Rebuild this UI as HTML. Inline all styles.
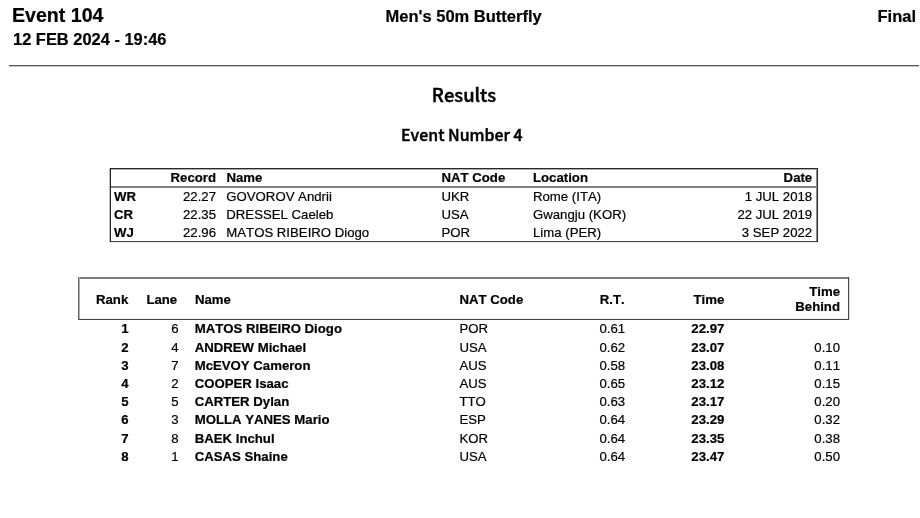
<!DOCTYPE html>
<html><head><meta charset="utf-8"><title>Results</title>
<style>
html,body{margin:0;padding:0;background:#fff;}
body{width:920px;height:518px;position:relative;overflow:hidden;font-family:"Liberation Sans",sans-serif;color:#000;font-kerning:none;font-size:13.2px;}
.t{position:absolute;white-space:nowrap;line-height:1;-webkit-text-stroke:0.2px #000;}
.b{font-weight:bold;font-size:13.2px;}
.seg{font-family:"Noto Sans CJK JP","Noto Sans CJK SC","Liberation Sans",sans-serif;font-weight:500;-webkit-text-stroke:0.45px #000;}
</style></head><body>
<div class="t b" style="top:6px;left:12px;font-size:19.6px;">Event 104</div>
<div class="t b" style="top:31px;left:13px;font-size:16.45px;">12 FEB 2024 - 19:46</div>
<div class="t b" style="top:8px;left:163.6px;width:600px;text-align:center;font-size:16.5px;">Men's 50m Butterfly</div>
<div class="t b" style="top:8px;right:4px;font-size:16.5px;">Final</div>
<div class="t seg" style="top:85px;left:164px;width:600px;text-align:center;font-size:18.4px;">Results</div>
<div class="t seg" style="top:127px;left:161.9px;width:600px;text-align:center;font-size:15.9px;">Event Number 4</div>
<svg width="920" height="518" viewBox="0 0 920 518" shape-rendering="crispEdges" style="position:absolute;left:0;top:0;">
<rect x="9" y="66" width="910" height="1" fill="#c4c4c4"/>
<rect x="9" y="65" width="910" height="1" fill="#5a5a5a"/>
<rect x="110" y="186" width="708" height="2" fill="#808080"/>
<rect x="109" y="168" width="1" height="74" fill="#c0c0c0"/>
<rect x="816" y="168" width="1" height="74" fill="#909090"/>
<rect x="110" y="169" width="708" height="1" fill="#aaaaaa"/>
<rect x="110" y="242" width="708" height="1" fill="#e4e4e4"/>
<rect x="110" y="168" width="708" height="1" fill="#2a2a2a"/>
<rect x="110" y="241" width="708" height="1" fill="#484848"/>
<rect x="110" y="168" width="1" height="74" fill="#222222"/>
<rect x="817" y="168" width="1" height="74" fill="#2a2a2a"/>
<rect x="78" y="277" width="772" height="2" fill="#7c7c7c"/>
<rect x="78" y="318" width="772" height="1" fill="#eeeeee"/>
<rect x="79" y="277" width="1" height="43" fill="#b0b0b0"/>
<rect x="849" y="277" width="1" height="43" fill="#dddddd"/>
<rect x="78" y="319" width="771" height="1" fill="#444444"/>
<rect x="78" y="277" width="1" height="43" fill="#666666"/>
<rect x="848" y="277" width="1" height="43" fill="#4a4a4a"/>
</svg>
<div class="t b" style="top:171px;right:704px;">Record</div>
<div class="t b" style="top:171px;left:226.5px;">Name</div>
<div class="t b" style="top:171px;left:441.5px;">NAT Code</div>
<div class="t b" style="top:171px;left:533px;">Location</div>
<div class="t b" style="top:171px;right:107.8px;">Date</div>
<div class="t b" style="top:190px;left:114px;">WR</div>
<div class="t " style="top:190px;right:704px;">22.27</div>
<div class="t " style="top:190px;left:226.3px;">GOVOROV Andrii</div>
<div class="t " style="top:190px;left:441.5px;">UKR</div>
<div class="t " style="top:190px;left:533px;">Rome (ITA)</div>
<div class="t " style="top:190px;right:107.8px;">1 JUL 2018</div>
<div class="t b" style="top:208px;left:114px;">CR</div>
<div class="t " style="top:208px;right:704px;">22.35</div>
<div class="t " style="top:208px;left:226.3px;">DRESSEL Caeleb</div>
<div class="t " style="top:208px;left:441.5px;">USA</div>
<div class="t " style="top:208px;left:533px;">Gwangju (KOR)</div>
<div class="t " style="top:208px;right:107.8px;">22 JUL 2019</div>
<div class="t b" style="top:226px;left:114px;">WJ</div>
<div class="t " style="top:226px;right:704px;">22.96</div>
<div class="t " style="top:226px;left:226.3px;">MATOS RIBEIRO Diogo</div>
<div class="t " style="top:226px;left:441.5px;">POR</div>
<div class="t " style="top:226px;left:533px;">Lima (PER)</div>
<div class="t " style="top:226px;right:107.8px;">3 SEP 2022</div>
<div class="t b" style="top:293px;left:96px;">Rank</div>
<div class="t b" style="top:293px;left:146.4px;">Lane</div>
<div class="t b" style="top:293px;left:195px;">Name</div>
<div class="t b" style="top:293px;left:459.5px;">NAT Code</div>
<div class="t b" style="top:293px;left:599.8px;">R.T.</div>
<div class="t b" style="top:293px;right:195.7px;">Time</div>
<div class="t b" style="top:285px;right:80px;">Time</div>
<div class="t b" style="top:300px;right:80px;">Behind</div>
<div class="t b" style="top:322px;right:791.5px;">1</div>
<div class="t " style="top:322px;right:741.5px;">6</div>
<div class="t b" style="top:322px;left:194.7px;">MATOS RIBEIRO Diogo</div>
<div class="t " style="top:322px;left:459.5px;">POR</div>
<div class="t " style="top:322px;left:599.4px;">0.61</div>
<div class="t b" style="top:322px;right:195.7px;">22.97</div>
<div class="t b" style="top:341px;right:791.5px;">2</div>
<div class="t " style="top:341px;right:741.5px;">4</div>
<div class="t b" style="top:341px;left:194.7px;">ANDREW Michael</div>
<div class="t " style="top:341px;left:459.5px;">USA</div>
<div class="t " style="top:341px;left:599.4px;">0.62</div>
<div class="t b" style="top:341px;right:195.7px;">23.07</div>
<div class="t " style="top:341px;right:80px;">0.10</div>
<div class="t b" style="top:359px;right:791.5px;">3</div>
<div class="t " style="top:359px;right:741.5px;">7</div>
<div class="t b" style="top:359px;left:194.7px;">McEVOY Cameron</div>
<div class="t " style="top:359px;left:459.5px;">AUS</div>
<div class="t " style="top:359px;left:599.4px;">0.58</div>
<div class="t b" style="top:359px;right:195.7px;">23.08</div>
<div class="t " style="top:359px;right:80px;">0.11</div>
<div class="t b" style="top:377px;right:791.5px;">4</div>
<div class="t " style="top:377px;right:741.5px;">2</div>
<div class="t b" style="top:377px;left:194.7px;">COOPER Isaac</div>
<div class="t " style="top:377px;left:459.5px;">AUS</div>
<div class="t " style="top:377px;left:599.4px;">0.65</div>
<div class="t b" style="top:377px;right:195.7px;">23.12</div>
<div class="t " style="top:377px;right:80px;">0.15</div>
<div class="t b" style="top:395px;right:791.5px;">5</div>
<div class="t " style="top:395px;right:741.5px;">5</div>
<div class="t b" style="top:395px;left:194.7px;">CARTER Dylan</div>
<div class="t " style="top:395px;left:459.5px;">TTO</div>
<div class="t " style="top:395px;left:599.4px;">0.63</div>
<div class="t b" style="top:395px;right:195.7px;">23.17</div>
<div class="t " style="top:395px;right:80px;">0.20</div>
<div class="t b" style="top:413px;right:791.5px;">6</div>
<div class="t " style="top:413px;right:741.5px;">3</div>
<div class="t b" style="top:413px;left:194.7px;">MOLLA YANES Mario</div>
<div class="t " style="top:413px;left:459.5px;">ESP</div>
<div class="t " style="top:413px;left:599.4px;">0.64</div>
<div class="t b" style="top:413px;right:195.7px;">23.29</div>
<div class="t " style="top:413px;right:80px;">0.32</div>
<div class="t b" style="top:432px;right:791.5px;">7</div>
<div class="t " style="top:432px;right:741.5px;">8</div>
<div class="t b" style="top:432px;left:194.7px;">BAEK Inchul</div>
<div class="t " style="top:432px;left:459.5px;">KOR</div>
<div class="t " style="top:432px;left:599.4px;">0.64</div>
<div class="t b" style="top:432px;right:195.7px;">23.35</div>
<div class="t " style="top:432px;right:80px;">0.38</div>
<div class="t b" style="top:450px;right:791.5px;">8</div>
<div class="t " style="top:450px;right:741.5px;">1</div>
<div class="t b" style="top:450px;left:194.7px;">CASAS Shaine</div>
<div class="t " style="top:450px;left:459.5px;">USA</div>
<div class="t " style="top:450px;left:599.4px;">0.64</div>
<div class="t b" style="top:450px;right:195.7px;">23.47</div>
<div class="t " style="top:450px;right:80px;">0.50</div>
</body></html>
